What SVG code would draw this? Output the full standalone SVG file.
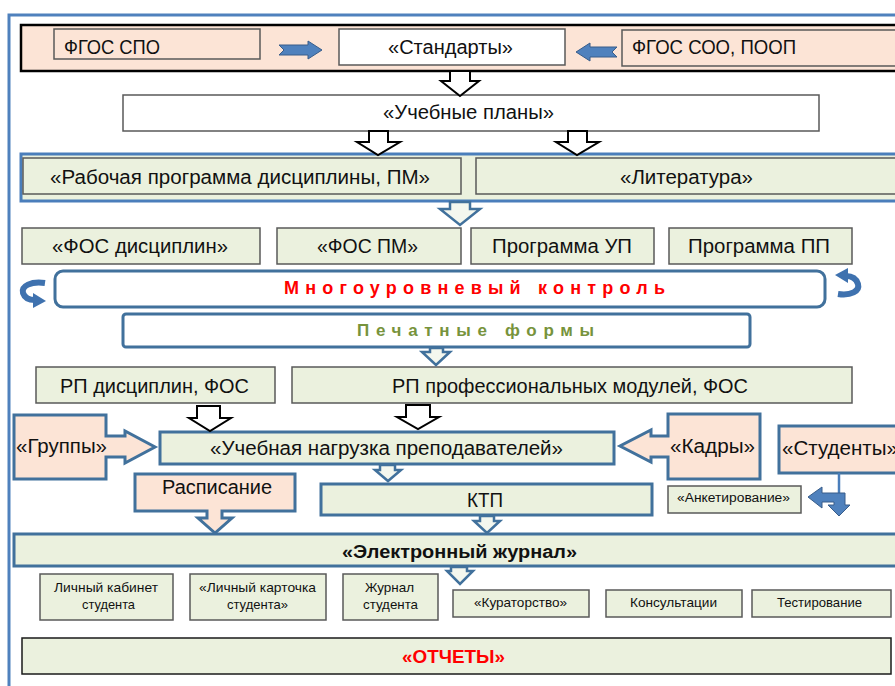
<svg xmlns="http://www.w3.org/2000/svg" width="895" height="686" viewBox="0 0 895 686">
<style>
.t{font-family:"Liberation Sans",Arial,sans-serif;fill:#111;}
.m{font-size:20px;}
.s{font-size:13px;}
.xs{font-size:12px;}
.bg{fill:#EBF1DE;stroke:#595959;stroke-width:1.5;}
.bw{fill:#FFFFFF;stroke:#595959;stroke-width:1.5;}
.bp{fill:#FCE4D6;stroke:#595959;stroke-width:1.5;}
.ug{fill:#EBF1DE;stroke:#41719C;stroke-width:3;}
.up{fill:#FCE4D6;stroke:#41719C;stroke-width:3;}
.uw{fill:#FFFFFF;stroke:#41719C;stroke-width:3;}
.ak{fill:#FFFFFF;stroke:#000;stroke-width:2;stroke-linejoin:miter;}
.ab{fill:#F4F7EE;stroke:#41719C;stroke-width:2.5;}
.as{fill:#4F81BD;stroke:#385D8A;stroke-width:1;}
.cv{fill:none;stroke:#3F72AF;stroke-width:6;}
</style>
<rect width="895" height="686" fill="#FFFFFF"/>
<path d="M9,686 V15 H895" fill="none" stroke="#4F81BD" stroke-width="3"/>

<g id="top-band">
<rect x="21" y="25" width="880" height="46" fill="#FCE4D6" stroke="#000" stroke-width="2.5"/>
</g>
<g id="fgos-spo">
<rect class="bp" x="54" y="29" width="206" height="30"/>
<text class="t m" x="64" y="54" textLength="96" lengthAdjust="spacingAndGlyphs">ФГОС СПО</text>
</g>
<g id="standarty">
<rect class="bw" x="339" y="29" width="226" height="36"/>
<text class="t m" x="450.5" y="54" text-anchor="middle" textLength="125" lengthAdjust="spacingAndGlyphs">«Стандарты»</text>
</g>
<g id="fgos-soo">
<rect class="bp" x="622" y="30" width="280" height="36"/>
<text class="t m" x="632" y="54" textLength="164" lengthAdjust="spacingAndGlyphs">ФГОС СОО, ПООП</text>
</g>
<g id="uchebnye-plany">
<rect class="bw" x="123" y="95" width="696" height="36"/>
<text class="t m" x="468.5" y="119" text-anchor="middle" textLength="171" lengthAdjust="spacingAndGlyphs">«Учебные планы»</text>
</g>
<g id="row3">
<rect x="21" y="154" width="882" height="47" fill="#EBF1DE" stroke="#4A7EBB" stroke-width="3"/>
</g>
<g id="rabochaya-programma">
<rect class="bg" x="23" y="158" width="438" height="36"/>
<text class="t m" x="240" y="184" text-anchor="middle" textLength="380" lengthAdjust="spacingAndGlyphs">«Рабочая программа дисциплины, ПМ»</text>
</g>
<g id="literatura">
<rect class="bg" x="476" y="158" width="424" height="36"/>
<text class="t m" x="686.5" y="184" text-anchor="middle" textLength="133" lengthAdjust="spacingAndGlyphs">«Литература»</text>
</g>
<g id="fos-disciplin">
<rect class="bg" x="22" y="228" width="238" height="36"/>
<text class="t m" x="140" y="253" text-anchor="middle" textLength="176" lengthAdjust="spacingAndGlyphs">«ФОС дисциплин»</text>
</g>
<g id="fos-pm">
<rect class="bg" x="277" y="228" width="184" height="36"/>
<text class="t m" x="367.5" y="253" text-anchor="middle" textLength="101" lengthAdjust="spacingAndGlyphs">«ФОС ПМ»</text>
</g>
<g id="programma-up">
<rect class="bg" x="471" y="228" width="183" height="36"/>
<text class="t m" x="562" y="253" text-anchor="middle" textLength="140" lengthAdjust="spacingAndGlyphs">Программа УП</text>
</g>
<g id="programma-pp">
<rect class="bg" x="669" y="228" width="183" height="36"/>
<text class="t m" x="759" y="253" text-anchor="middle" textLength="142" lengthAdjust="spacingAndGlyphs">Программа ПП</text>
</g>
<g id="mnogourovnevyy-kontrol">
<rect class="uw" x="55" y="271" width="770" height="36" rx="8"/>
<text class="t" x="474.5" y="294" text-anchor="middle" font-size="18" font-weight="bold" style="fill:#FF0000" textLength="381" lengthAdjust="spacing">Многоуровневый контроль</text>
</g>
<g id="pechatnye-formy">
<rect class="uw" x="123" y="314" width="627" height="33" rx="3"/>
<text class="t" x="475.5" y="336" text-anchor="middle" font-size="17" font-weight="bold" style="fill:#77933C" textLength="237" lengthAdjust="spacing">Печатные формы</text>
</g>
<g id="rp-disciplin">
<rect class="bg" x="36" y="367" width="239" height="36"/>
<text class="t m" x="154.5" y="393" text-anchor="middle" textLength="189" lengthAdjust="spacingAndGlyphs">РП дисциплин, ФОС</text>
</g>
<g id="rp-pm">
<rect class="bg" x="292" y="367" width="560" height="36"/>
<text class="t m" x="570" y="393" text-anchor="middle" textLength="356" lengthAdjust="spacingAndGlyphs">РП профессиональных модулей, ФОС</text>
</g>
<g id="gruppy">
<path class="up" d="M14,415 H106 V436 H125 V431 L155,447 L125,463 V457 H106 V479 H14 Z"/>
<text class="t m" x="16" y="453" textLength="91" lengthAdjust="spacingAndGlyphs">«Группы»</text>
</g>
<g id="uchebnaya-nagruzka">
<rect class="ug" x="160" y="432" width="454" height="32"/>
<text class="t m" x="386.5" y="455" text-anchor="middle" textLength="353" lengthAdjust="spacingAndGlyphs">«Учебная нагрузка преподавателей»</text>
</g>
<g id="kadry">
<path class="up" d="M668,414 H760 V479 H668 V457 H651 V462 L620,446 L651,430 V436 H668 Z"/>
<text class="t m" x="670" y="453" textLength="85" lengthAdjust="spacingAndGlyphs">«Кадры»</text>
</g>
<g id="studenty">
<rect class="up" x="779" y="426" width="124" height="47"/>
<text class="t m" x="782" y="455" textLength="116" lengthAdjust="spacingAndGlyphs">«Студенты»</text>
</g>
<g id="raspisanie">
<path class="up" d="M135,474 H295 V511 H222 V518 H232 L215,533 L198,518 H207 V511 H135 Z"/>
<text class="t m" x="217" y="494" text-anchor="middle" textLength="110" lengthAdjust="spacingAndGlyphs">Расписание</text>
</g>
<g id="ktp">
<rect class="ug" x="321" y="484" width="331" height="31"/>
<text class="t m" x="485" y="507" text-anchor="middle" textLength="36" lengthAdjust="spacingAndGlyphs">КТП</text>
</g>
<g id="anketirovanie">
<rect class="bg" x="668" y="486" width="133" height="27"/>
<text class="t xs" x="733.5" y="502" text-anchor="middle" textLength="113" lengthAdjust="spacingAndGlyphs">«Анкетирование»</text>
</g>
<g id="elektronnyy-zhurnal">
<rect class="ug" x="14" y="534" width="890" height="32"/>
<text class="t" x="459.5" y="558" text-anchor="middle" font-size="18" font-weight="bold" textLength="235" lengthAdjust="spacingAndGlyphs">«Электронный журнал»</text>
</g>
<g id="lichnyy-kabinet">
<rect class="bg" x="40" y="574" width="133" height="46"/>
<text class="t s" x="106" y="592" text-anchor="middle" textLength="104" lengthAdjust="spacingAndGlyphs">Личный кабинет</text>
<text class="t s" x="108.5" y="609" text-anchor="middle" textLength="53" lengthAdjust="spacingAndGlyphs">студента</text>
</g>
<g id="lichnyy-kartochka">
<rect class="bg" x="190" y="574" width="136" height="46"/>
<text class="t s" x="257.5" y="592" text-anchor="middle" textLength="117" lengthAdjust="spacingAndGlyphs">«Личный карточка</text>
<text class="t s" x="257.5" y="609" text-anchor="middle" textLength="61" lengthAdjust="spacingAndGlyphs">студента»</text>
</g>
<g id="zhurnal-studenta">
<rect class="bg" x="343" y="574" width="95" height="46"/>
<text class="t s" x="389.5" y="592" text-anchor="middle" textLength="49" lengthAdjust="spacingAndGlyphs">Журнал</text>
<text class="t s" x="390.5" y="609" text-anchor="middle" textLength="55" lengthAdjust="spacingAndGlyphs">студента</text>
</g>
<g id="kuratorstvo">
<rect class="bg" x="453" y="590" width="136" height="27"/>
<text class="t s" x="520.5" y="607" text-anchor="middle" textLength="93" lengthAdjust="spacingAndGlyphs">«Кураторство»</text>
</g>
<g id="konsultacii">
<rect class="bg" x="606" y="590" width="136" height="27"/>
<text class="t s" x="673.5" y="607" text-anchor="middle" textLength="87" lengthAdjust="spacingAndGlyphs">Консультации</text>
</g>
<g id="testirovanie">
<rect class="bg" x="752" y="590" width="139" height="27"/>
<text class="t s" x="819.5" y="607" text-anchor="middle" textLength="85" lengthAdjust="spacingAndGlyphs">Тестирование</text>
</g>
<g id="otchety">
<rect x="22" y="638" width="869" height="36" fill="#EBF1DE" stroke="#1a1a1a" stroke-width="1.5"/>
<text class="t" x="453.5" y="663" text-anchor="middle" font-size="19" font-weight="bold" style="fill:#FF0000" textLength="103" lengthAdjust="spacingAndGlyphs">«ОТЧЕТЫ»</text>
</g>

<g id="connectors">
<path class="as" d="M279,45 H308 V41 L322,50 L308,59 V55 H279 L284,50 Z"/>
<path class="as" d="M576,52 L590,43 V47 H617 L612,52 L617,57 H590 V61 Z"/>
<path class="ak" d="M450,71 H470 V81 H479 L460,96 L441,81 H450 Z"/>
<path class="ak" d="M369,131 H388 V142 H400 L378,155 L357,142 H369 Z"/>
<path class="ak" d="M568,131 H587 V142 H599 L577,155 L556,142 H568 Z"/>
<path class="ab" d="M450,202 H470 V209 H480 L460,225 L440,209 H450 Z"/>
<path class="cv" d="M45,283 C31,281 21,286 23,293 C25,299 30,300 35,300"/>
<path fill="#3F72AF" d="M33,293 L46,301 L33,308 Z"/>
<path class="cv" d="M838,294 C851,296 860,291 858,284 C856,278 851,276 846,276"/>
<path fill="#3F72AF" d="M848,268 L835,275 L848,283 Z"/>
<path class="ab" d="M430,348 H443 V352 H450 L436,365 L422,352 H430 Z"/>
<path class="ak" d="M197,406 H220 V418 H231 L210,431 L189,418 H197 Z"/>
<path class="ak" d="M406,405 H430 V417 H439 L418,429 L397,417 H406 Z"/>
<path class="ab" d="M380,465 H395 V470 H401 L388,481 L375,470 H380 Z"/>
<path class="ab" d="M480,516 H494 V521 H500 L487,533 L474,521 H480 Z"/>
<path class="ab" d="M451,567 H467 V571 H473 L460,584 L447,571 H451 Z"/>
<line x1="839" y1="473" x2="839" y2="494" stroke="#4A7EBB" stroke-width="2.5"/>
<path class="as" d="M808,497 L822,487 V493 H845 V505 H850 L839,516 L828,505 H834 V502 H822 V508 Z"/>
</g>
</svg>
